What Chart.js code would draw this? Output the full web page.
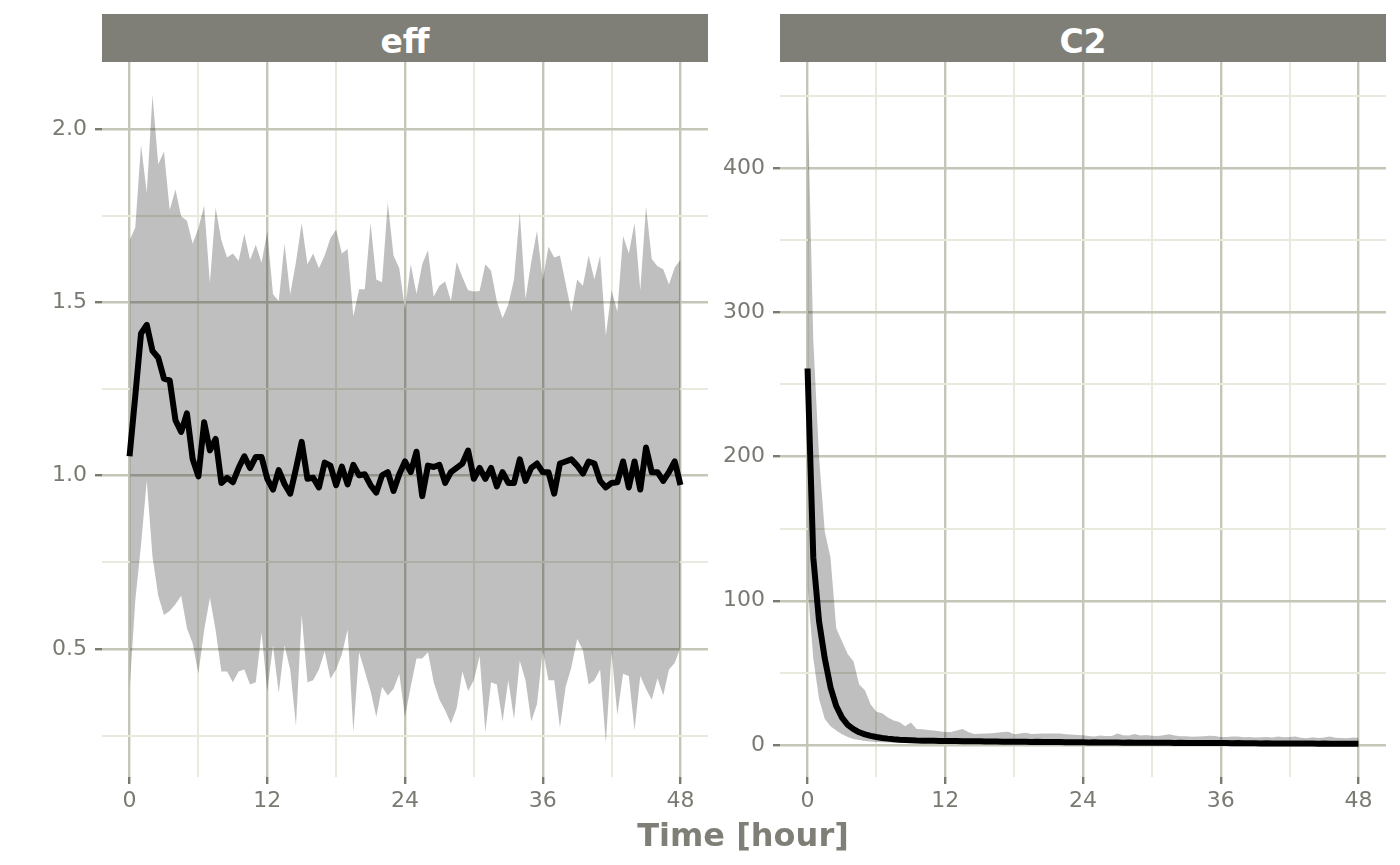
<!DOCTYPE html>
<html>
<head>
<meta charset="utf-8">
<script src="https://cdn.jsdelivr.net/npm/chart.js@4.4.1/dist/chart.umd.min.js"></script>
<style>
html,body{margin:0;padding:0;background:#ffffff;width:1400px;height:865px;overflow:hidden;font-family:"DejaVu Sans",sans-serif;}
canvas{position:absolute;top:0;}
#c1{left:0;}
#c2{left:710px;}
.strip{position:absolute;top:14px;height:48px;background:#7f7f77;color:#ffffff;font-weight:bold;font-size:33px;text-align:center;line-height:55px;font-family:"DejaVu Sans",sans-serif;}
#s1{left:102px;width:606px;}
#s2{left:780px;width:606px;}
#xtitle{position:absolute;left:543px;width:400px;top:819px;text-align:center;font-weight:bold;font-size:32px;line-height:32px;color:#7f7f77;font-family:"DejaVu Sans",sans-serif;}
</style>
</head>
<body>
<canvas id="c1" width="710" height="865"></canvas>
<canvas id="c2" width="690" height="865"></canvas>
<div class="strip" id="s1">eff</div>
<div class="strip" id="s2">C2</div>
<div id="xtitle">Time [hour]</div>
<script>
// ---------- data ----------
const panelNames = ['eff', 'C2'];
const times = [
 0,0.5,1,1.5,2,2.5,3,3.5,4,4.5,
 5,5.5,6,6.5,7,7.5,8,8.5,9,9.5,
 10,10.5,11,11.5,12,12.5,13,13.5,14,14.5,
 15,15.5,16,16.5,17,17.5,18,18.5,19,19.5,
 20,20.5,21,21.5,22,22.5,23,23.5,24,24.5,
 25,25.5,26,26.5,27,27.5,28,28.5,29,29.5,
 30,30.5,31,31.5,32,32.5,33,33.5,34,34.5,
 35,35.5,36,36.5,37,37.5,38,38.5,39,39.5,
 40,40.5,41,41.5,42,42.5,43,43.5,44,44.5,
 45,45.5,46,46.5,47,47.5,48
];
const effMid = [
 1.056,1.23,1.41,1.435,1.36,1.34,1.28,1.275,1.16,1.126,
 1.18,1.048,0.998,1.154,1.073,1.106,0.979,0.994,0.981,1.022,
 1.056,1.022,1.054,1.054,0.991,0.96,1.016,0.976,0.948,1.02,
 1.0975,0.991,0.994,0.966,1.0375,1.029,0.9725,1.026,0.975,1.031,
 1.001,1.004,0.9725,0.951,1.001,1.01,0.956,1.004,1.041,1.01,
 1.069,0.941,1.029,1.025,1.031,0.979,1.01,1.0225,1.035,1.0725,
 0.991,1.0225,0.991,1.0225,0.969,1.01,0.979,0.979,1.047,0.985,
 1.0225,1.035,1.01,1.01,0.948,1.035,1.041,1.047,1.029,1.006,
 1.041,1.035,0.985,0.966,0.979,0.981,1.041,0.966,1.041,0.96,
 1.081,1.01,1.01,0.985,1.01,1.041,0.973
];
const effHi = [
 1.679,1.716,1.954,1.816,2.098,1.898,1.935,1.766,1.825,1.748,
 1.735,1.669,1.714,1.779,1.556,1.773,1.679,1.629,1.641,1.619,
 1.698,1.623,1.666,1.614,1.704,1.523,1.504,1.669,1.523,1.616,
 1.729,1.61,1.641,1.598,1.635,1.685,1.71,1.641,1.654,1.46,
 1.5375,1.5375,1.729,1.566,1.558,1.7875,1.635,1.598,1.48,1.61,
 1.525,1.61,1.65,1.516,1.548,1.56,1.504,1.616,1.5725,1.535,
 1.531,1.5325,1.61,1.591,1.504,1.454,1.494,1.566,1.76,1.51,
 1.616,1.706,1.564,1.66,1.629,1.635,1.554,1.4725,1.566,1.5475,
 1.635,1.566,1.635,1.404,1.535,1.4725,1.691,1.641,1.729,1.535,
 1.776,1.625,1.604,1.595,1.551,1.60,1.6225
];
const effLo = [
 0.38,0.64,0.80,0.985,0.766,0.654,0.598,0.61,0.629,0.654,
 0.56,0.516,0.429,0.554,0.648,0.554,0.435,0.435,0.404,0.435,
 0.441,0.398,0.404,0.548,0.379,0.51,0.373,0.51,0.44,0.279,
 0.5975,0.404,0.41,0.441,0.494,0.414,0.441,0.485,0.556,0.26,
 0.491,0.435,0.379,0.304,0.391,0.366,0.385,0.429,0.304,0.391,
 0.4725,0.4725,0.491,0.404,0.354,0.3225,0.285,0.329,0.435,0.379,
 0.41,0.479,0.26,0.404,0.3975,0.291,0.41,0.2975,0.466,0.41,
 0.291,0.341,0.4975,0.41,0.41,0.2725,0.391,0.4475,0.529,0.4975,
 0.3975,0.41,0.441,0.229,0.491,0.31,0.429,0.4225,0.266,0.4225,
 0.385,0.354,0.416,0.366,0.441,0.46,0.504
];
const c2Mid = [
 261,130,86,60,40,27,19,14,11,8.8,
 7.4,6.3,5.5,4.9,4.4,4.0,3.7,3.5,3.3,3.1,
 3.0,2.9,2.9,2.8,2.8,2.7,2.8,2.6,2.6,2.5,
 2.5,2.4,2.4,2.4,2.3,2.3,2.3,2.2,2.2,2.1,
 2.2,2.1,2.0,2.0,2.0,1.9,1.9,1.9,1.9,1.8,
 1.9,1.8,1.7,1.8,1.7,1.6,1.7,1.6,1.6,1.6,
 1.5,1.6,1.5,1.5,1.4,1.5,1.4,1.4,1.4,1.3,
 1.4,1.3,1.3,1.3,1.2,1.3,1.2,1.2,1.2,1.1,
 1.2,1.1,1.1,1.1,1.0,1.1,1.0,1.0,1.0,0.9,
 1.0,0.9,0.9,0.9,0.9,0.8,0.9
];
const c2Hi = [
 451,281,200,148,130,81,72,63,58,42,
 38,28,23,22,19,17,16,13,15.5,11,
 10.9,10.4,10,9.5,9,9,10,11,9,7.6,
 7.8,8,8.2,8.5,9,9.2,7.4,8,8.5,7.6,
 7.8,8,7.9,8,8,7.5,7.2,6.9,6.7,6.2,
 5.8,6.5,6.3,6.2,8,6.8,6.5,7.6,6.5,6.9,
 6.4,6.2,6.8,7.4,6.5,6.1,6.0,5.7,5.8,6.0,
 6.4,6.2,5.6,5.5,5.9,5.8,5.4,5.6,5.2,5.3,
 5.5,5.2,5.8,5.4,5.6,5.8,5.0,4.6,5.3,4.9,
 5.2,5.8,5.0,4.8,4.6,5.1,5.0
];
const c2Lo = [
 110,60,32,18,13,10,7.5,5.5,4.2,3.4,
 2.8,2.4,2.1,1.9,1.8,1.7,1.6,1.5,1.45,1.4,
 1.35,1.3,1.3,1.25,1.2,1.2,1.15,1.1,1.1,1.05,
 1.0,1.0,0.95,0.95,0.9,0.9,0.9,0.85,0.85,0.8,
 0.8,0.8,0.75,0.75,0.7,0.7,0.7,0.7,0.65,0.65,
 0.65,0.6,0.6,0.6,0.6,0.55,0.55,0.55,0.55,0.5,
 0.5,0.5,0.5,0.5,0.45,0.45,0.45,0.45,0.45,0.4,
 0.4,0.4,0.4,0.4,0.4,0.4,0.35,0.35,0.35,0.35,
 0.35,0.35,0.35,0.35,0.3,0.3,0.3,0.3,0.3,0.3,
 0.3,0.3,0.3,0.3,0.3,0.3,0.3
];
// tick positions and labels
const xMajor = [0, 12, 24, 36, 48];
const xMinor = [6, 18, 30, 42];
const xLabels = ['0', '12', '24', '36', '48'];
const effYMajor = [0.5, 1.0, 1.5, 2.0];
const effYMinor = [0.25, 0.75, 1.25, 1.75];
const effYLabels = ['0.5', '1.0', '1.5', '2.0'];
const c2YMajor = [0, 100, 200, 300, 400];
const c2YMinor = [50, 150, 250, 350, 450];
const c2YLabels = ['0', '100', '200', '300', '400'];

// ---------- styling ----------
const MAJ = '#c5c5b8';
const MIN = '#e9e9dd';
const TICKC = '#7a7a72';
const LABC = '#7a7a72';
const FONT = '"DejaVu Sans", sans-serif';

function pts(xs, ys) { return xs.map((x, i) => ({x: x, y: ys[i]})); }

function axisCfg(major, minor, labels, min, max, isX, fitSize) {
  const all = major.concat(minor).sort((a, b) => a - b);
  const isMaj = v => major.indexOf(v) >= 0;
  return {
    type: 'linear',
    min: min, max: max,
    position: isX ? 'bottom' : 'left',
    afterBuildTicks: s => { s.ticks = all.map(v => ({value: v})); },
    afterFit: s => { if (isX) { s.height = fitSize; } else { s.width = fitSize; } },
    border: {display: false},
    grid: {
      drawOnChartArea: true,
      drawTicks: true,
      tickLength: 7,
      color: c => (c.tick && isMaj(c.tick.value)) ? MAJ : MIN,
      lineWidth: c => (c.tick && isMaj(c.tick.value)) ? 2.4 : 2,
      tickColor: c => (c.tick && isMaj(c.tick.value)) ? TICKC : 'rgba(0,0,0,0)',
      tickWidth: 2.4
    },
    ticks: {
      autoSkip: false,
      maxRotation: 0,
      minRotation: 0,
      padding: isX ? 4 : 8,
      color: LABC,
      font: {family: FONT, size: 22},
      callback: v => { const i = major.indexOf(v); return i >= 0 ? labels[i] : ''; }
    }
  };
}

function makeChart(id, lo, hi, mid, yMajor, yMinor, yLabels, ymin, ymax, yWidth, padRight) {
  return new Chart(document.getElementById(id), {
    type: 'line',
    data: {
      datasets: [
        {data: pts(times, lo), borderWidth: 0, borderColor: 'rgba(0,0,0,0)', pointRadius: 0, fill: false, tension: 0},
        {data: pts(times, hi), borderWidth: 0, borderColor: 'rgba(0,0,0,0)', pointRadius: 0, fill: '-1', backgroundColor: 'rgba(0,0,0,0.25)', tension: 0},
        {data: pts(times, mid), borderWidth: 6, borderColor: '#000000', pointRadius: 0, fill: false, tension: 0, borderCapStyle: 'butt', borderJoinStyle: 'round'}
      ]
    },
    options: {
      responsive: false,
      animation: false,
      events: [],
      layout: {padding: {top: 62, right: padRight, bottom: 0, left: 0}},
      plugins: {legend: {display: false}, tooltip: {enabled: false}, title: {display: false}},
      scales: {
        x: axisCfg(xMajor, xMinor, xLabels, -2.4, 50.4, true, 88),
        y: axisCfg(yMajor, yMinor, yLabels, ymin, ymax, false, yWidth)
      }
    }
  });
}

makeChart('c1', effLo, effHi, effMid, effYMajor, effYMinor, effYLabels, 0.131, 2.193, 102, 2);
makeChart('c2', c2Lo, c2Hi, c2Mid, c2YMajor, c2YMinor, c2YLabels, -22.2, 473.5, 70, 14);
</script>
</body>
</html>
